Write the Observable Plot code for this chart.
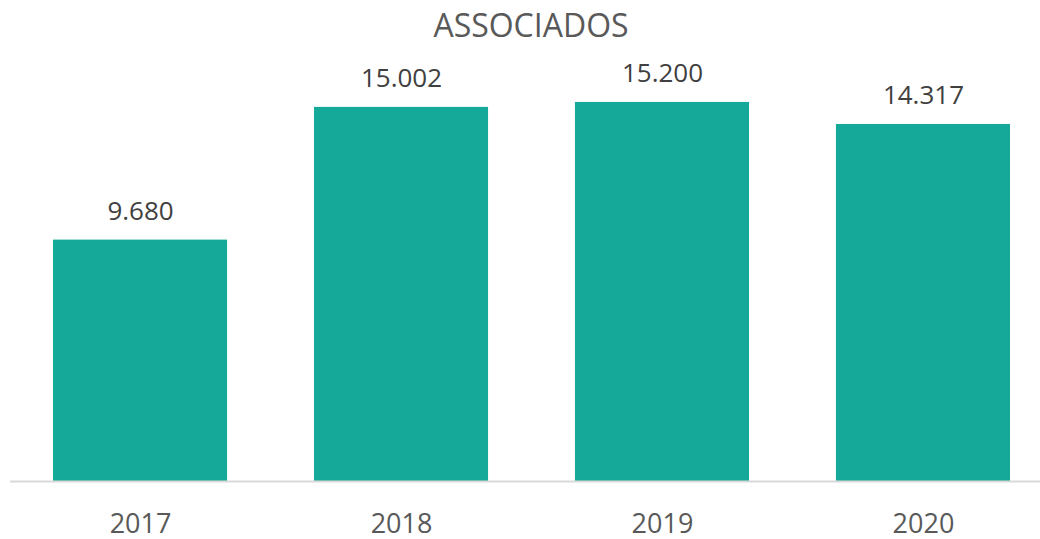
<!DOCTYPE html>
<html><head><meta charset="utf-8">
<script src="https://cdn.jsdelivr.net/npm/d3@7"></script>
<script src="https://cdn.jsdelivr.net/npm/@observablehq/plot@0.6"></script>
<style>
body{margin:0;background:#fff;font-family:"Open Sans",sans-serif}
#title{height:50px;line-height:50px;font-size:32px;color:#595959;text-align:center;padding-left:22px;width:1040px;box-sizing:border-box}
</style>
</head><body>
<div id="title">ASSOCIADOS</div>
<div id="chart"></div>
<script>
const years = ["2017", "2018", "2019", "2020"];
const associados = [9680, 15002, 15200, 14317];
const valueLabels = ["9.680", "15.002", "15.200", "14.317"];

const data = years.map((y, i) => ({year: y, value: associados[i], label: valueLabels[i]}));

const chart = Plot.plot({
  width: 1040,
  height: 489,
  marginLeft: 53,
  marginRight: 30,
  marginTop: 32,
  marginBottom: 58,
  style: {fontFamily: "Open Sans", background: "#fff"},
  x: {domain: years, paddingInner: 0.333, paddingOuter: 0, round: false, axis: null},
  y: {domain: [0, 16000], axis: null},
  marks: [
    Plot.barY(data, {x: "year", y: "value", fill: "#14a998"}),
    Plot.ruleY([0], {stroke: "#d9d9d9", strokeWidth: 2, insetLeft: -43, insetRight: -30}),
    Plot.text(data, {x: "year", y: "value", text: "label", dy: -20, lineAnchor: "bottom", fontSize: 26, fill: "#404040"}),
    Plot.text(data, {x: "year", frameAnchor: "bottom", text: "year", dy: 51, lineAnchor: "bottom", fontSize: 27, fill: "#595959"})
  ]
});
document.getElementById("chart").appendChild(chart);
</script>
</body></html>
